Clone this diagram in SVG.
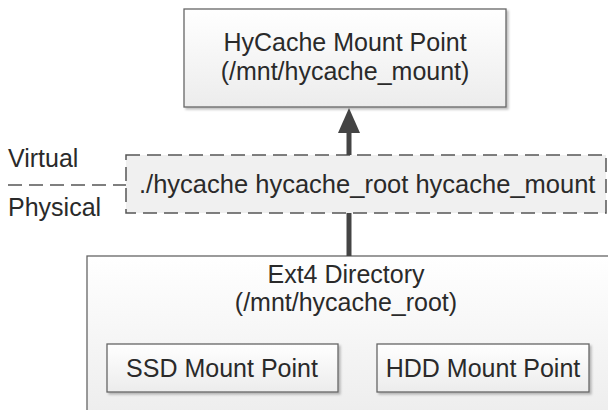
<svg xmlns="http://www.w3.org/2000/svg" width="608" height="410" viewBox="0 0 608 410">
<defs>
<linearGradient id="g" x1="0" y1="0" x2="0" y2="1">
<stop offset="0" stop-color="#ffffff"/>
<stop offset="1" stop-color="#ececec"/>
</linearGradient>
<filter id="sh" x="-5%" y="-5%" width="115%" height="120%">
<feDropShadow dx="2" dy="2" stdDeviation="1" flood-color="#000" flood-opacity="0.25"/>
</filter>
</defs>
<style>
text{font-family:"Liberation Sans",Arial,sans-serif;font-size:25px;fill:#2a2a2a;}
.c{text-anchor:middle;}
.box{fill:url(#g);stroke:#666;stroke-width:1.3;}
.dash{fill:#f0f0f0;stroke:#555;stroke-width:1.5;stroke-dasharray:14 7;}
.conn{stroke:#444;stroke-width:5;fill:none;}
</style>
<rect width="608" height="410" fill="#fff"/>
<g id="ext4">
<rect class="box" x="87" y="256" width="530" height="170" filter="url(#sh)"/>
<text class="c" x="346" y="283">Ext4 Directory</text>
<text class="c" x="346" y="311">(/mnt/hycache_root)</text>
</g>
<g id="ssd">
<rect class="box" x="107" y="344" width="231" height="48" filter="url(#sh)"/>
<text class="c" x="222" y="377">SSD Mount Point</text>
</g>
<g id="hdd">
<rect class="box" x="377" y="344" width="212" height="48" filter="url(#sh)"/>
<text class="c" x="483" y="377">HDD Mount Point</text>
</g>
<g id="hycache-mount">
<rect class="box" x="184" y="9" width="322" height="98" filter="url(#sh)"/>
<text class="c" x="345" y="51">HyCache Mount Point</text>
<text class="c" x="345" y="80">(/mnt/hycache_mount)</text>
</g>
<g id="hycache-cmd">
<rect class="dash" x="126" y="155" width="480" height="58"/>
<text x="139" y="193" style="font-size:25.5px">./hycache hycache_root hycache_mount</text>
</g>
<g id="labels">
<text x="8" y="167">Virtual</text>
<text x="8" y="216">Physical</text>
</g>
<g id="connectors">
<line x1="8" y1="185" x2="126" y2="185" stroke="#555" stroke-width="1.5" stroke-dasharray="14 7"/>
<line class="conn" x1="349" y1="131" x2="349" y2="155"/>
<polygon points="349,108 338,133 360,133" fill="#444"/>
<line class="conn" x1="349" y1="213" x2="349" y2="256"/>
</g>
</svg>
